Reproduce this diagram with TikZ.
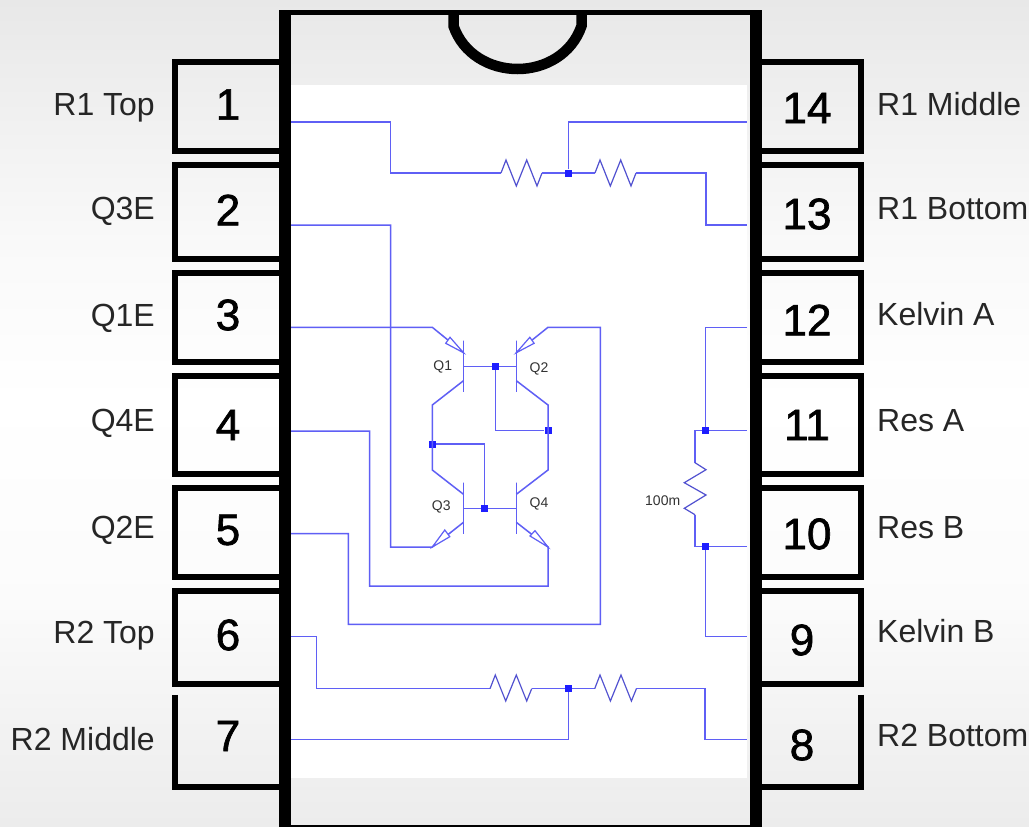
\documentclass[tikz,border=0pt]{standalone}
\usepackage{fontspec}
\usepackage{xcolor}
\usepackage{tikz}
\setmainfont{Liberation Sans}
\newfontfamily\pinfont[FakeBold=1.5]{Liberation Sans}
\definecolor{wirecol}{RGB}{95,95,245}
\definecolor{dotcol}{RGB}{30,30,255}
\pgfdeclareverticalshading{pagefade}{100bp}{
    color(0bp)=(black!7.5);
    color(25bp)=(black!7.5);
    color(32.7bp)=(black!4.3);
    color(38.7bp)=(black!1.5);
    color(50.8bp)=(white);
    color(60.5bp)=(black!2.4);
    color(75bp)=(black!9);
    color(100bp)=(black!9)}

\begin{document}
\begin{tikzpicture}[
    x=1pt, y=-1pt,
    pinbox/.style={rectangle, draw=black, line width=6pt, inner sep=0pt},
    pinopen/.style={rectangle, inner sep=0pt},
    pinedge/.style={draw=black, line width=6pt, line join=miter},
    pinnum/.style={inner sep=0pt, font=\fontsize{44}{44}\pinfont},
    pinname/.style={inner sep=0pt, text=black!85, font=\fontsize{32}{36}\selectfont},
    partname/.style={inner sep=0pt, text=black!80, font=\fontsize{14}{16}\selectfont},
    wire/.style={draw=wirecol, line width=1.5pt, line join=miter},
    zig/.style={draw=wirecol!85!black, line width=1.2pt, line join=miter},
    bar/.style={rectangle, draw=wirecol, line width=1.5pt, inner sep=0pt, minimum width=0pt, minimum height=51.3pt},
    tri/.style={draw=wirecol, line width=1.2pt, fill=white},
    dot/.style={rectangle, fill=dotcol, inner sep=0pt, minimum size=7pt}
]
    % page and panel
    \useasboundingbox (0,0) rectangle (1029,827);
    \shade[shading=pagefade] (0,0) rectangle (1029,827);
    \fill[white] (291,85) rectangle (747,778);

    % left pins
    \node[pinbox, minimum width=107pt, minimum height=89pt] (p1) at (228.5,106.5) {};
    \node[pinbox, minimum width=107pt, minimum height=94pt] (p2) at (228.5,212) {};
    \node[pinbox, minimum width=107pt, minimum height=89pt] (p3) at (228.5,317.5) {};
    \node[pinbox, minimum width=107pt, minimum height=98pt] (p4) at (228.5,425) {};
    \node[pinbox, minimum width=107pt, minimum height=89pt] (p5) at (228.5,532.5) {};
    \node[pinbox, minimum width=107pt, minimum height=93pt] (p6) at (228.5,637.5) {};
    \node[pinopen, minimum width=107pt, minimum height=92pt] (p7) at (228.5,741) {};
    \draw[pinedge] (p7.north west) -- (p7.south west) -- (p7.south east);

    % right pins
    \node[pinbox, minimum width=102pt, minimum height=89pt] (p14) at (810,106.5) {};
    \node[pinbox, minimum width=102pt, minimum height=94pt] (p13) at (810,212) {};
    \node[pinbox, minimum width=102pt, minimum height=89pt] (p12) at (810,317.5) {};
    \node[pinbox, minimum width=102pt, minimum height=98pt] (p11) at (810,425) {};
    \node[pinbox, minimum width=102pt, minimum height=89pt] (p10) at (810,532.5) {};
    \node[pinbox, minimum width=102pt, minimum height=93pt] (p9) at (810,637.5) {};
    \node[pinopen, minimum width=102pt, minimum height=92pt] (p8) at (810,741) {};
    \draw[pinedge] (p8.north east) -- (p8.south east) -- (p8.south west);

    % package outline
    \draw[line width=12pt] (285,10) -- (285,827);
    \draw[line width=12pt] (756,10) -- (756,827);
    \draw[line width=5pt] (279,12.5) -- (762,12.5);
    \draw[line width=2pt] (279,826) -- (762,826);
    \draw[line width=10.5pt] (453.5,12) -- (453.5,26) .. controls (463,54) and (490,69) .. (517.5,69) .. controls (545,69) and (572,54) .. (581.5,26) -- (581.5,12);

    % pin numbers
    \node[pinnum] (n1) at (228,104.5) {1};
    \node[pinnum] (n2) at (228,210) {2};
    \node[pinnum] (n3) at (228,315) {3};
    \node[pinnum] (n4) at (228,425) {4};
    \node[pinnum] (n5) at (228,530) {5};
    \node[pinnum] (n6) at (228,635) {6};
    \node[pinnum] (n7) at (228,736) {7};
    \node[pinnum] (n14) at (807,108) {14};
    \node[pinnum] (n13) at (807,214) {13};
    \node[pinnum] (n12) at (807,320) {12};
    \node[pinnum] (n11) at (807,425) {11};
    \node[pinnum] (n10) at (807,534) {10};
    \node[pinnum] (n9) at (802,640) {9};
    \node[pinnum] (n8) at (802,745) {8};

    % pin names
    \node[pinname, anchor=base east] (l1) at (155,115) {R1 Top};
    \node[pinname, anchor=base east] (l2) at (155,219) {Q3E};
    \node[pinname, anchor=base east] (l3) at (155,326) {Q1E};
    \node[pinname, anchor=base east] (l4) at (155,431) {Q4E};
    \node[pinname, anchor=base east] (l5) at (155,538) {Q2E};
    \node[pinname, anchor=base east] (l6) at (155,643) {R2 Top};
    \node[pinname, anchor=base east] (l7) at (155,750) {R2 Middle};
    \node[pinname, anchor=base west] (l14) at (877,115) {R1 Middle};
    \node[pinname, anchor=base west] (l13) at (877,219) {R1 Bottom};
    \node[pinname, anchor=base west] (l12) at (877,325) {Kelvin A};
    \node[pinname, anchor=base west] (l11) at (877,431) {Res A};
    \node[pinname, anchor=base west] (l10) at (877,538) {Res B};
    \node[pinname, anchor=base west] (l9) at (877,642) {Kelvin B};
    \node[pinname, anchor=base west] (l8) at (877,746) {R2 Bottom};

    % wire ends at the panel edge
    \coordinate (w1) at (291,122);
    \coordinate (w2) at (291,225);
    \coordinate (w3) at (291,327.3);
    \coordinate (w4) at (291,431);
    \coordinate (w5) at (291,533.7);
    \coordinate (w6) at (291,636.7);
    \coordinate (w7) at (291,739.3);
    \coordinate (w8) at (747,739.3);
    \coordinate (w9) at (747,636.7);
    \coordinate (w10) at (747,546.7);
    \coordinate (w11) at (747,430.7);
    \coordinate (w12) at (747,327.3);
    \coordinate (w13) at (747,225);
    \coordinate (w14) at (747,122);

    % transistors
    \node[bar] (q1) at (463.5,366.3) {};
    \node[bar] (q2) at (516.3,366.3) {};
    \node[bar] (q3) at (463.5,508.3) {};
    \node[bar] (q4) at (516.3,508.3) {};
    \node[partname] (q1name) at (442.7,367) {Q1};
    \node[partname] (q2name) at (539,368.5) {Q2};
    \node[partname] (q3name) at (441.3,506.5) {Q3};
    \node[partname] (q4name) at (539,504) {Q4};
    \coordinate (q1e) at (463.5,352.7);
    \coordinate (q1c) at (463.5,380.7);
    \coordinate (q2e) at (516.3,352.7);
    \coordinate (q2c) at (516.3,380.7);
    \coordinate (q3c) at (463.5,494.3);
    \coordinate (q3e) at (463.5,522.3);
    \coordinate (q4c) at (516.3,494.3);
    \coordinate (q4e) at (516.3,522.3);
    \coordinate (c1) at (432.3,405);
    \coordinate (c3) at (432.3,470);
    \coordinate (c2) at (548,405);
    \coordinate (c4) at (548,470);
    \coordinate (x2) at (548,327.3);
    \coordinate (x3) at (432.3,547);
    \coordinate (x4) at (548,547);
    \coordinate (b4) at (548,586);
    \coordinate (b5) at (600.3,624.3);

    % junctions
    \node[dot] (j1) at (568.7,173) {};
    \node[dot] (j2) at (568.3,688.7) {};
    \node[dot] (j3) at (495.7,366.3) {};
    \node[dot] (j4) at (548,430.7) {};
    \node[dot] (j5) at (432.3,444) {};
    \node[dot] (j6) at (484.7,508.3) {};
    \node[dot] (j7) at (705.7,430.7) {};
    \node[dot] (j8) at (705.7,546.7) {};

    % R1 pair
    \coordinate (r1a) at (501,173);
    \coordinate (r2a) at (595,173);
    \draw[wire] (w1) -- ++(99.7,0) |- (r1a);
    \draw[zig] (r1a) -- ++(5,-13) -- ++(10.3,26) -- ++(10.4,-26) -- ++(10.3,26) -- ++(5,-13) coordinate (r1b);
    \draw[wire] (r1b) -- (j1);
    \draw[wire] (j1) -- (r2a);
    \draw[wire] (j1) |- (w14);
    \draw[zig] (r2a) -- ++(5,-13) -- ++(10.3,26) -- ++(10.4,-26) -- ++(10.3,26) -- ++(5,-13) coordinate (r2b);
    \draw[wire] (r2b) -- ++(70,0) |- (w13);

    % R2 pair
    \coordinate (r4a) at (490,688.7);
    \coordinate (r5a) at (594.7,688.7);
    \draw[wire] (w6) -- ++(25.7,0) |- (r4a);
    \draw[zig] (r4a) -- ++(5.3,-13.7) -- ++(10.4,26) -- ++(10.6,-26) -- ++(10.4,26) -- ++(5,-12.3) coordinate (r4b);
    \draw[wire] (r4b) -- (j2);
    \draw[wire] (j2) -- (r5a);
    \draw[wire] (w7) -| (j2);
    \draw[zig] (r5a) -- ++(5.3,-13.7) -- ++(10.4,26) -- ++(10.6,-26) -- ++(10.4,26) -- ++(5,-12.3) coordinate (r5b);
    \draw[wire] (r5b) -- ++(68.7,0) |- (w8);

    % transistor wiring
    \draw[wire] (w3) -- ++(141.3,0) -- (q1e);
    \draw[wire] (w2) -- ++(99.7,0) |- (x3) -- (q3e);
    \draw[wire] (w4) -- ++(78.5,0) |- (b4) -- (x4) -- (q4e);
    \draw[wire] (w5) -- ++(57.3,0) |- (b5) |- (x2) -- (q2e);
    \draw[wire] (q1c) -- (c1) -- (c3) -- (q3c);
    \draw[wire] (q2c) -- (c2) -- (c4) -- (q4c);
    \draw[wire] (q1) -- (j3);
    \draw[wire] (j3) -- (q2);
    \draw[wire] (q3) -- (j6);
    \draw[wire] (j6) -- (q4);
    \draw[wire] (j3) |- (j4);
    \draw[wire] (j5) -| (j6);
    \draw[tri] (q1e) -- ++(-13.5,-15.4) -- ++(-4.3,6) -- cycle;
    \draw[tri] (q2e) -- ++(13.5,-15.4) -- ++(4.3,6) -- cycle;
    \draw[tri] (x3) -- ++(17.5,-10.3) -- ++(-5,-6.7) -- cycle;
    \draw[tri] (x4) -- ++(-18,-11) -- ++(5,-5.3) -- cycle;

    % sense resistor
    \coordinate (r3a) at (695,462.7);
    \node[partname] (r3name) at (662.7,501) {100m};
    \draw[wire] (w12) -- ++(-41.3,0) -- (j7);
    \draw[wire] (j7) -- (w11);
    \draw[wire] (j7) -| (r3a);
    \draw[zig] (r3a) -- ++(11,7) -- ++(-21.7,13) -- ++(21.7,12.3) -- ++(-21.7,13.3) -- ++(10.7,6.4) coordinate (r3b);
    \draw[wire] (r3b) |- (j8);
    \draw[wire] (j8) -- (w10);
    \draw[wire] (j8) |- (w9);
\end{tikzpicture}
\end{document}
